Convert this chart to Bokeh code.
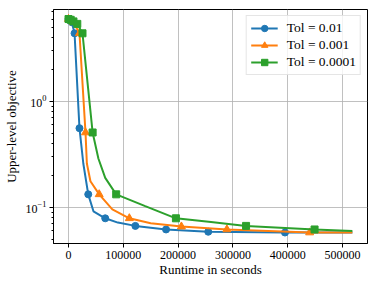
from bokeh.plotting import figure
from bokeh.models import Range1d, FixedTicker, BasicTickFormatter, LogTicker
from bokeh.embed import file_html
from bokeh.resources import INLINE

# Tol = 0.01
blue_x = [0, 3000, 6000, 11000, 20000, 27000, 36000, 45500, 67000, 90000, 122000, 178000, 255000, 395000, 518000]
blue_y = [6.0, 5.85, 5.6, 4.4, 0.56, 0.26, 0.133, 0.092, 0.079, 0.072, 0.067, 0.062, 0.059, 0.058, 0.058]
blue_marks = [0, 1, 2, 3, 4, 6, 8, 10, 11, 12, 13]

# Tol = 0.001
orange_x = [0, 4000, 9000, 20000, 31000, 33500, 40000, 56000, 80000, 111000, 150000, 206000, 289000, 440000, 518000]
orange_y = [6.0, 5.85, 5.6, 4.4, 0.51, 0.26, 0.177, 0.133, 0.096, 0.079, 0.071, 0.066, 0.062, 0.058, 0.058]
orange_marks = [0, 1, 2, 3, 4, 7, 9, 11, 12, 13]

# Tol = 0.0001
green_x = [0, 4000, 9000, 16000, 25500, 44000, 54500, 67000, 87000, 140000, 196000, 260000, 324000, 449000, 518000]
green_y = [6.0, 5.9, 5.7, 5.4, 4.4, 0.51, 0.29, 0.19, 0.133, 0.103, 0.079, 0.073, 0.067, 0.062, 0.060]
green_marks = [0, 1, 2, 3, 4, 5, 8, 10, 12, 13]

labels = ["Tol = 0.01", "Tol = 0.001", "Tol = 0.0001"]
x_ticks = [0, 100000, 200000, 300000, 400000, 500000]

FONT = "Liberation Serif"

p = figure(frame_width=314, frame_height=234, y_axis_type="log",
           x_range=Range1d(-27400, 545600), y_range=Range1d(0.0457, 7.38),
           output_backend="svg", toolbar_location=None,
           min_border_left=50, min_border_right=8, min_border_top=9, min_border_bottom=38)

p.outline_line_color = "black"
p.outline_line_width = 1
p.outline_line_alpha = 1

p.xaxis.ticker = FixedTicker(ticks=x_ticks)
p.xaxis.formatter = BasicTickFormatter(use_scientific=False)
p.yaxis.ticker = LogTicker(num_minor_ticks=10)

for ax in (p.xaxis[0], p.yaxis[0]):
    ax.major_label_text_font = FONT
    ax.major_label_text_font_size = "12px"
    ax.major_label_text_color = "black"
    ax.axis_label_text_font = FONT
    ax.axis_label_text_font_size = "13px"
    ax.axis_label_text_font_style = "normal"
    ax.axis_label_text_color = "black"
    ax.axis_line_color = "black"
    ax.major_tick_in = 0
    ax.major_tick_out = 4
    ax.minor_tick_in = 0
    ax.minor_tick_out = 2
    ax.major_tick_line_color = "black"
    ax.minor_tick_line_color = "black"

p.xaxis.major_label_standoff = 3
p.xaxis.axis_label_standoff = 0
p.yaxis.major_label_standoff = 3
p.yaxis.axis_label_standoff = 4

p.xaxis.minor_tick_line_color = None
p.xaxis.axis_label = "Runtime in seconds"
p.yaxis.axis_label = "Upper-level objective"

p.xgrid.ticker = FixedTicker(ticks=x_ticks)
p.grid.grid_line_color = "#b0b0b0"
p.grid.grid_line_alpha = 0.8
p.grid.grid_line_width = 1

series = [
    (blue_x, blue_y, blue_marks, "#1f77b4", "circle", 7),
    (orange_x, orange_y, orange_marks, "#ff7f0e", "triangle", 8),
    (green_x, green_y, green_marks, "#2ca02c", "square", 7),
]

for (xs, ys, marks, color, marker, size), lab in zip(series, labels):
    p.line(xs, ys, line_color=color, line_width=2, legend_label=lab)
    mx = [xs[i] for i in marks]
    my = [ys[i] for i in marks]
    p.scatter(mx, my, marker=marker, size=size, fill_color=color, line_color=color,
              legend_label=lab)

lg = p.legend[0]
lg.location = "top_right"
lg.margin = 6
lg.padding = 4
lg.spacing = 1
lg.label_text_font = FONT
lg.label_text_font_size = "13.5px"
lg.label_text_color = "black"
lg.glyph_width = 27
lg.glyph_height = 16
lg.label_height = 16
lg.label_standoff = 9
lg.border_line_color = "#cccccc"
lg.border_line_width = 1
lg.background_fill_alpha = 0.8

open("out.html", "w").write(file_html(p, INLINE))
